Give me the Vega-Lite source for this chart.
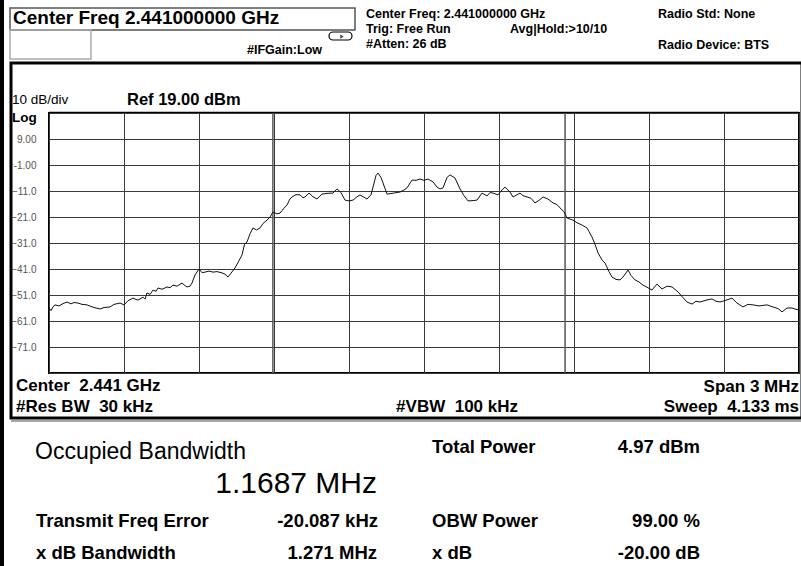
{
  "$schema": "https://vega.github.io/schema/vega-lite/v6.json",
  "width": 750,
  "height": 260,
  "autosize": {"type": "none"},
  "padding": {"left": 49, "right": 2, "top": 113, "bottom": 193},
  "background": "white",
  "config": {
    "view": {"stroke": "#000", "strokeWidth": 2},
    "font": "Liberation Sans",
    "text": {"font": "Liberation Sans", "baseline": "middle", "color": "#000"}
  },
  "datasets": {
    "trace": [
      {"freq": 2439.500, "level": -56.0}, {"freq": 2439.508, "level": -57.0}, {"freq": 2439.516, "level": -55.5},
      {"freq": 2439.524, "level": -54.8}, {"freq": 2439.540, "level": -55.2}, {"freq": 2439.556, "level": -54.3},
      {"freq": 2439.572, "level": -53.7}, {"freq": 2439.588, "level": -54.4}, {"freq": 2439.600, "level": -53.9},
      {"freq": 2439.616, "level": -54.1}, {"freq": 2439.632, "level": -54.6}, {"freq": 2439.652, "level": -54.8},
      {"freq": 2439.668, "level": -55.4}, {"freq": 2439.684, "level": -55.9}, {"freq": 2439.704, "level": -56.4},
      {"freq": 2439.720, "level": -55.8}, {"freq": 2439.744, "level": -55.6}, {"freq": 2439.760, "level": -54.6},
      {"freq": 2439.784, "level": -54.1}, {"freq": 2439.800, "level": -54.8}, {"freq": 2439.816, "level": -53.2},
      {"freq": 2439.836, "level": -52.2}, {"freq": 2439.856, "level": -53.0}, {"freq": 2439.876, "level": -51.8},
      {"freq": 2439.884, "level": -52.6}, {"freq": 2439.892, "level": -50.2}, {"freq": 2439.904, "level": -50.8},
      {"freq": 2439.916, "level": -49.1}, {"freq": 2439.928, "level": -49.6}, {"freq": 2439.936, "level": -48.3},
      {"freq": 2439.952, "level": -48.8}, {"freq": 2439.972, "level": -47.9}, {"freq": 2439.984, "level": -48.2},
      {"freq": 2439.996, "level": -47.2}, {"freq": 2440.012, "level": -47.6}, {"freq": 2440.032, "level": -46.4},
      {"freq": 2440.044, "level": -47.4}, {"freq": 2440.052, "level": -47.9}, {"freq": 2440.064, "level": -47.6},
      {"freq": 2440.072, "level": -46.4}, {"freq": 2440.084, "level": -43.3}, {"freq": 2440.100, "level": -41.0},
      {"freq": 2440.112, "level": -42.4}, {"freq": 2440.124, "level": -42.2}, {"freq": 2440.140, "level": -41.8},
      {"freq": 2440.156, "level": -42.2}, {"freq": 2440.172, "level": -42.0}, {"freq": 2440.192, "level": -42.5},
      {"freq": 2440.204, "level": -43.0}, {"freq": 2440.216, "level": -44.1}, {"freq": 2440.228, "level": -42.6},
      {"freq": 2440.244, "level": -40.6}, {"freq": 2440.256, "level": -38.5}, {"freq": 2440.272, "level": -35.6},
      {"freq": 2440.282, "level": -31.5}, {"freq": 2440.292, "level": -30.6}, {"freq": 2440.304, "level": -27.5},
      {"freq": 2440.316, "level": -25.2}, {"freq": 2440.330, "level": -26.0}, {"freq": 2440.344, "level": -25.2},
      {"freq": 2440.356, "level": -23.5}, {"freq": 2440.372, "level": -22.2}, {"freq": 2440.384, "level": -21.0},
      {"freq": 2440.396, "level": -19.1}, {"freq": 2440.412, "level": -19.8}, {"freq": 2440.424, "level": -19.5},
      {"freq": 2440.440, "level": -17.6}, {"freq": 2440.452, "level": -16.4}, {"freq": 2440.464, "level": -14.0},
      {"freq": 2440.472, "level": -13.3}, {"freq": 2440.488, "level": -12.4}, {"freq": 2440.504, "level": -12.5},
      {"freq": 2440.516, "level": -13.6}, {"freq": 2440.524, "level": -13.3}, {"freq": 2440.540, "level": -11.8},
      {"freq": 2440.556, "level": -13.2}, {"freq": 2440.572, "level": -14.1}, {"freq": 2440.592, "level": -12.2},
      {"freq": 2440.612, "level": -11.9}, {"freq": 2440.636, "level": -11.8}, {"freq": 2440.652, "level": -10.2},
      {"freq": 2440.668, "level": -11.6}, {"freq": 2440.684, "level": -14.5}, {"freq": 2440.700, "level": -14.8},
      {"freq": 2440.716, "level": -14.5}, {"freq": 2440.732, "level": -13.2}, {"freq": 2440.744, "level": -12.5},
      {"freq": 2440.760, "level": -13.4}, {"freq": 2440.772, "level": -14.1}, {"freq": 2440.788, "level": -12.5},
      {"freq": 2440.796, "level": -9.5}, {"freq": 2440.808, "level": -5.0}, {"freq": 2440.816, "level": -4.1},
      {"freq": 2440.828, "level": -5.8}, {"freq": 2440.836, "level": -7.9}, {"freq": 2440.852, "level": -12.2},
      {"freq": 2440.872, "level": -11.9}, {"freq": 2440.904, "level": -11.4}, {"freq": 2440.920, "level": -10.6},
      {"freq": 2440.932, "level": -9.8}, {"freq": 2440.952, "level": -6.8}, {"freq": 2440.968, "level": -6.9},
      {"freq": 2440.984, "level": -6.4}, {"freq": 2441.000, "level": -6.9}, {"freq": 2441.016, "level": -6.4},
      {"freq": 2441.036, "level": -7.5}, {"freq": 2441.052, "level": -9.5}, {"freq": 2441.064, "level": -10.2},
      {"freq": 2441.076, "level": -9.8}, {"freq": 2441.092, "level": -5.8}, {"freq": 2441.104, "level": -4.8},
      {"freq": 2441.124, "level": -6.0}, {"freq": 2441.144, "level": -10.2}, {"freq": 2441.160, "level": -12.8},
      {"freq": 2441.176, "level": -14.8}, {"freq": 2441.196, "level": -14.7}, {"freq": 2441.212, "level": -14.5},
      {"freq": 2441.232, "level": -11.8}, {"freq": 2441.252, "level": -12.9}, {"freq": 2441.264, "level": -11.6},
      {"freq": 2441.276, "level": -11.8}, {"freq": 2441.296, "level": -12.5}, {"freq": 2441.308, "level": -11.0},
      {"freq": 2441.324, "level": -9.5}, {"freq": 2441.344, "level": -11.4}, {"freq": 2441.356, "level": -13.3},
      {"freq": 2441.384, "level": -11.8}, {"freq": 2441.396, "level": -12.8}, {"freq": 2441.412, "level": -13.3},
      {"freq": 2441.428, "level": -13.8}, {"freq": 2441.444, "level": -15.6}, {"freq": 2441.460, "level": -14.6},
      {"freq": 2441.476, "level": -13.3}, {"freq": 2441.496, "level": -14.1}, {"freq": 2441.516, "level": -15.6},
      {"freq": 2441.532, "level": -16.2}, {"freq": 2441.544, "level": -17.5}, {"freq": 2441.560, "level": -19.0},
      {"freq": 2441.572, "level": -21.4}, {"freq": 2441.596, "level": -22.2}, {"freq": 2441.612, "level": -23.2},
      {"freq": 2441.632, "level": -24.1}, {"freq": 2441.652, "level": -25.2}, {"freq": 2441.660, "level": -26.6},
      {"freq": 2441.672, "level": -28.7}, {"freq": 2441.684, "level": -31.5}, {"freq": 2441.696, "level": -34.8},
      {"freq": 2441.712, "level": -37.5}, {"freq": 2441.724, "level": -38.7}, {"freq": 2441.740, "level": -42.0},
      {"freq": 2441.752, "level": -44.1}, {"freq": 2441.768, "level": -45.0}, {"freq": 2441.784, "level": -45.2},
      {"freq": 2441.796, "level": -44.1}, {"freq": 2441.816, "level": -41.4}, {"freq": 2441.828, "level": -43.5},
      {"freq": 2441.844, "level": -45.2}, {"freq": 2441.860, "level": -46.0}, {"freq": 2441.876, "level": -47.2},
      {"freq": 2441.892, "level": -48.0}, {"freq": 2441.912, "level": -49.1}, {"freq": 2441.932, "level": -46.8},
      {"freq": 2441.952, "level": -48.7}, {"freq": 2441.972, "level": -47.6}, {"freq": 2441.992, "level": -47.9},
      {"freq": 2442.016, "level": -49.8}, {"freq": 2442.036, "level": -52.0}, {"freq": 2442.052, "level": -53.7},
      {"freq": 2442.072, "level": -54.5}, {"freq": 2442.088, "level": -53.4}, {"freq": 2442.104, "level": -53.7},
      {"freq": 2442.128, "level": -53.0}, {"freq": 2442.152, "level": -52.5}, {"freq": 2442.168, "level": -53.4},
      {"freq": 2442.184, "level": -53.7}, {"freq": 2442.208, "level": -53.0}, {"freq": 2442.232, "level": -52.2},
      {"freq": 2442.252, "level": -54.1}, {"freq": 2442.276, "level": -55.6}, {"freq": 2442.296, "level": -54.6},
      {"freq": 2442.316, "level": -54.8}, {"freq": 2442.340, "level": -55.2}, {"freq": 2442.372, "level": -54.8},
      {"freq": 2442.396, "level": -55.6}, {"freq": 2442.416, "level": -56.2}, {"freq": 2442.432, "level": -57.5},
      {"freq": 2442.452, "level": -56.0}, {"freq": 2442.472, "level": -56.0}, {"freq": 2442.488, "level": -56.5},
      {"freq": 2442.500, "level": -56.8}
    ],
    "markers": [
      {"freq": 2440.3956, "level": 19, "level2": -81},
      {"freq": 2441.5643, "level": 19, "level2": -81}
    ],
    "frames": [
      {"part": "panel", "freq": 2439.348, "freq2": 2442.512, "level": 38.23, "level2": -98.31},
      {"part": "titlebox", "freq": 2439.344, "freq2": 2440.724, "level": 59.38, "level2": 50.92},
      {"part": "smallbox", "freq": 2439.344, "freq2": 2439.668, "level": 50.92, "level2": 39.77},
      {"part": "bar", "freq": 2439.304, "freq2": 2439.320, "level": 62.46, "level2": -155.23},
      {"part": "plottop", "freq": 2439.5, "freq2": 2442.5, "level": 19.5, "level2": 19.0},
      {"part": "underline", "freq": 2439.348, "freq2": 2442.508, "level": -99.08, "level2": -99.85},
      {"part": "icon", "freq": 2440.62, "freq2": 2440.712, "level": 50.15, "level2": 47.08}
    ],
    "icon": [
      {"freq": 2440.672, "level": 48.4}
    ],
    "notes": [
      {"role": "title", "text": "Center Freq 2.441000000 GHz", "freq": 2439.356, "level": 55.54},
      {"role": "status", "text": "Center Freq: 2.441000000 GHz", "freq": 2440.768, "level": 57.08},
      {"role": "status", "text": "Trig: Free Run", "freq": 2440.768, "level": 51.31},
      {"role": "status", "text": "#Atten: 26 dB", "freq": 2440.768, "level": 45.54},
      {"role": "status", "text": "Avg|Hold:>10/10", "freq": 2441.344, "level": 51.31},
      {"role": "status", "text": "Radio Std: None", "freq": 2441.936, "level": 57.08},
      {"role": "status", "text": "Radio Device: BTS", "freq": 2441.936, "level": 45.15},
      {"role": "status", "text": "#IFGain:Low", "freq": 2440.292, "level": 43.23},
      {"role": "scale", "text": "10 dB/div", "freq": 2439.352, "level": 24.0},
      {"role": "log", "text": "Log", "freq": 2439.352, "level": 17.08},
      {"role": "ref", "text": "Ref 19.00 dBm", "freq": 2439.812, "level": 24.0},
      {"role": "footL", "text": "Center\u00a0 2.441 GHz", "freq": 2439.368, "level": -86.0},
      {"role": "footL", "text": "#Res BW\u00a0 30 kHz", "freq": 2439.368, "level": -94.08},
      {"role": "footR", "text": "#VBW\u00a0 100 kHz", "freq": 2441.376, "level": -94.08},
      {"role": "footR", "text": "Span 3 MHz", "freq": 2442.5, "level": -86.38},
      {"role": "footR", "text": "Sweep\u00a0 4.133 ms", "freq": 2442.5, "level": -94.08},
      {"role": "obwTitle", "text": "Occupied Bandwidth", "freq": 2439.444, "level": -111.4},
      {"role": "obwValue", "text": "1.1687 MHz", "freq": 2440.812, "level": -123.7},
      {"role": "readLabel", "text": "Transmit Freq Error", "freq": 2439.448, "level": -137.92},
      {"role": "readLabel", "text": "x dB Bandwidth", "freq": 2439.448, "level": -150.23},
      {"role": "readLabel", "text": "Total Power", "freq": 2441.032, "level": -109.46},
      {"role": "readLabel", "text": "OBW Power", "freq": 2441.032, "level": -137.92},
      {"role": "readLabel", "text": "x dB", "freq": 2441.032, "level": -150.23},
      {"role": "readValue", "text": "-20.087 kHz", "freq": 2440.816, "level": -137.92},
      {"role": "readValue", "text": "1.271 MHz", "freq": 2440.812, "level": -150.23},
      {"role": "readValue", "text": "4.97 dBm", "freq": 2442.104, "level": -109.46},
      {"role": "readValue", "text": "99.00 %", "freq": 2442.104, "level": -137.92},
      {"role": "readValue", "text": "-20.00 dB", "freq": 2442.104, "level": -150.23}
    ]
  },
  "encoding": {
    "x": {
      "field": "freq", "type": "quantitative",
      "scale": {"domain": [2439.5, 2442.5], "nice": false, "zero": false},
      "axis": {
        "title": null, "labels": false, "ticks": false, "domain": false,
        "grid": true, "gridColor": "#3a3a3a", "gridWidth": 1,
        "values": [2439.5, 2439.8, 2440.1, 2440.4, 2440.7, 2441.0, 2441.3, 2441.6, 2441.9, 2442.2, 2442.5]
      }
    },
    "y": {
      "field": "level", "type": "quantitative",
      "scale": {"domain": [-81, 19], "nice": false, "zero": false},
      "axis": {
        "title": null, "ticks": false, "domain": false,
        "grid": true, "gridColor": "#3a3a3a", "gridWidth": 1,
        "values": [19, 9, -1, -11, -21, -31, -41, -51, -61, -71, -81],
        "labelExpr": "datum.value == 19 || datum.value == -81 ? '' : datum.value == 9 ? '9.00' : datum.value == -1 ? '-1.00' : format(datum.value, '.1f')",
        "labelFont": "Liberation Sans", "labelFontSize": 10, "labelColor": "#555", "labelPadding": 13
      }
    }
  },
  "layer": [
    {
      "data": {"name": "frames"},
      "transform": [{"filter": "datum.part == 'bar' || datum.part == 'underline' || datum.part == 'plottop'"}],
      "mark": {"type": "rect", "fill": "#000"},
      "encoding": {"x2": {"field": "freq2"}, "y2": {"field": "level2"}, "color": {"value": "#000"}, "opacity": {"condition": {"test": "datum.part == 'underline'", "value": 0.35}, "value": 1}}
    },
    {
      "data": {"name": "frames"},
      "transform": [{"filter": "datum.part == 'panel'"}],
      "mark": {"type": "rect", "fillOpacity": 0, "stroke": "#000", "strokeWidth": 3},
      "encoding": {"x2": {"field": "freq2"}, "y2": {"field": "level2"}}
    },
    {
      "data": {"name": "frames"},
      "transform": [{"filter": "datum.part == 'titlebox'"}],
      "mark": {"type": "rect", "fillOpacity": 0, "stroke": "#555", "strokeWidth": 1.5},
      "encoding": {"x2": {"field": "freq2"}, "y2": {"field": "level2"}}
    },
    {
      "data": {"name": "frames"},
      "transform": [{"filter": "datum.part == 'smallbox'"}],
      "mark": {"type": "rect", "fillOpacity": 0, "stroke": "#aaa", "strokeWidth": 1.5},
      "encoding": {"x2": {"field": "freq2"}, "y2": {"field": "level2"}}
    },
    {
      "data": {"name": "frames"},
      "transform": [{"filter": "datum.part == 'icon'"}],
      "mark": {"type": "rect", "fillOpacity": 0, "stroke": "#000", "strokeWidth": 1.2, "cornerRadius": 4},
      "encoding": {"x2": {"field": "freq2"}, "y2": {"field": "level2"}}
    },
    {
      "data": {"name": "icon"},
      "mark": {"type": "point", "shape": "triangle-right", "filled": true, "color": "#000", "size": 18}
    },
    {
      "data": {"name": "markers"},
      "mark": {"type": "rule", "color": "#555", "strokeWidth": 1.5},
      "encoding": {"y2": {"field": "level2"}}
    },
    {
      "data": {"name": "trace"},
      "mark": {"type": "line", "color": "#111", "strokeWidth": 1, "interpolate": "linear"}
    },
    {
      "data": {"name": "notes"},
      "transform": [{"filter": "datum.role == 'title'"}],
      "mark": {"type": "text", "align": "left", "fontSize": 19, "fontWeight": "bold"},
      "encoding": {"text": {"field": "text"}}
    },
    {
      "data": {"name": "notes"},
      "transform": [{"filter": "datum.role == 'status'"}],
      "mark": {"type": "text", "align": "left", "fontSize": 12.5, "fontWeight": "bold"},
      "encoding": {"text": {"field": "text"}}
    },
    {
      "data": {"name": "notes"},
      "transform": [{"filter": "datum.role == 'scale'"}],
      "mark": {"type": "text", "align": "left", "fontSize": 13.5},
      "encoding": {"text": {"field": "text"}}
    },
    {
      "data": {"name": "notes"},
      "transform": [{"filter": "datum.role == 'log'"}],
      "mark": {"type": "text", "align": "left", "fontSize": 13.5, "fontWeight": "bold"},
      "encoding": {"text": {"field": "text"}}
    },
    {
      "data": {"name": "notes"},
      "transform": [{"filter": "datum.role == 'ref'"}],
      "mark": {"type": "text", "align": "left", "fontSize": 16.5, "fontWeight": "bold"},
      "encoding": {"text": {"field": "text"}}
    },
    {
      "data": {"name": "notes"},
      "transform": [{"filter": "datum.role == 'footL'"}],
      "mark": {"type": "text", "align": "left", "fontSize": 17, "fontWeight": "bold"},
      "encoding": {"text": {"field": "text"}}
    },
    {
      "data": {"name": "notes"},
      "transform": [{"filter": "datum.role == 'footR'"}],
      "mark": {"type": "text", "align": "right", "fontSize": 17, "fontWeight": "bold"},
      "encoding": {"text": {"field": "text"}}
    },
    {
      "data": {"name": "notes"},
      "transform": [{"filter": "datum.role == 'obwTitle'"}],
      "mark": {"type": "text", "align": "left", "fontSize": 23},
      "encoding": {"text": {"field": "text"}}
    },
    {
      "data": {"name": "notes"},
      "transform": [{"filter": "datum.role == 'obwValue'"}],
      "mark": {"type": "text", "align": "right", "fontSize": 30},
      "encoding": {"text": {"field": "text"}}
    },
    {
      "data": {"name": "notes"},
      "transform": [{"filter": "datum.role == 'readLabel'"}],
      "mark": {"type": "text", "align": "left", "fontSize": 18.5, "fontWeight": "bold"},
      "encoding": {"text": {"field": "text"}}
    },
    {
      "data": {"name": "notes"},
      "transform": [{"filter": "datum.role == 'readValue'"}],
      "mark": {"type": "text", "align": "right", "fontSize": 18.5, "fontWeight": "bold"},
      "encoding": {"text": {"field": "text"}}
    }
  ]
}
